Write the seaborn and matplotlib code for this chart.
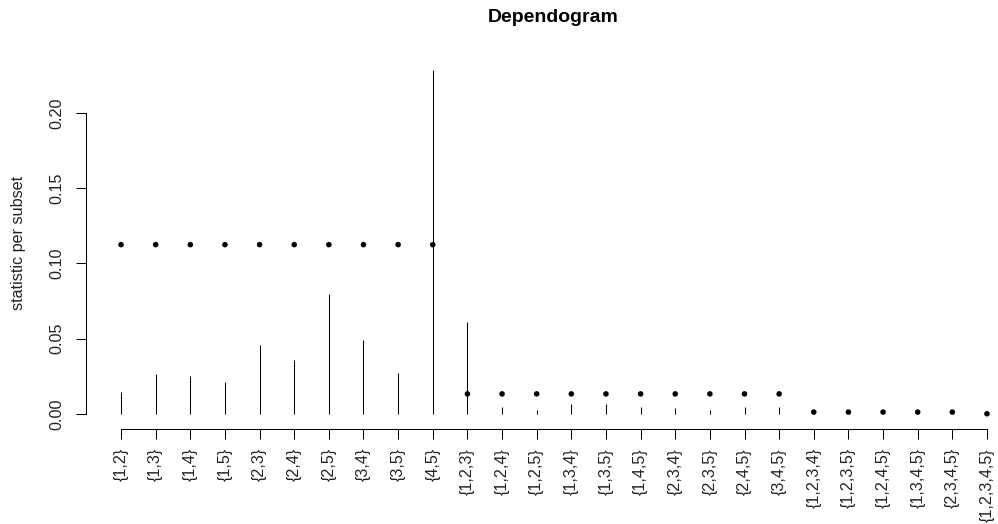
import matplotlib
matplotlib.use("Agg")
import matplotlib.pyplot as plt
import seaborn as sns
import pandas as pd

# Subsets of the five variables, in the order they are tested
subsets = ["{1,2}", "{1,3}", "{1,4}", "{1,5}", "{2,3}", "{2,4}", "{2,5}", "{3,4}", "{3,5}", "{4,5}",
           "{1,2,3}", "{1,2,4}", "{1,2,5}", "{1,3,4}", "{1,3,5}", "{1,4,5}", "{2,3,4}", "{2,3,5}",
           "{2,4,5}", "{3,4,5}",
           "{1,2,3,4}", "{1,2,3,5}", "{1,2,4,5}", "{1,3,4,5}", "{2,3,4,5}",
           "{1,2,3,4,5}"]

# Test statistic for each subset
statistic = [0.0148, 0.0266, 0.0255, 0.0213, 0.0458, 0.0357, 0.0797, 0.0492, 0.0272, 0.2286,
             0.0609, 0.0047, 0.0027, 0.0065, 0.0065, 0.0047, 0.0036, 0.0029, 0.0047, 0.0047,
             0.0, 0.0, 0.0, 0.0, 0.0,
             0.0]

# Critical value for each subset (depends on subset size)
critical = [0.1125] * 10 + [0.0133] * 10 + [0.0012] * 5 + [0.0001]

df = pd.DataFrame({
    "pos": range(1, len(subsets) + 1),
    "subset": subsets,
    "statistic": statistic,
    "critical": critical,
})

sns.set_theme(style="white")
plt.rcParams["font.family"] = ["Liberation Sans", "DejaVu Sans"]

W, H = 998, 524
fig = plt.figure(figsize=(W / 100, H / 100), dpi=100)

# Plot region in pixels (it runs slightly past the right edge of the figure)
left_px, right_px = 86.4, 1021.6
top_px, bottom_px = 57.0, 428.5
ax = fig.add_axes([left_px / W, 1 - bottom_px / H,
                   (right_px - left_px) / W, (bottom_px - top_px) / H])

# Statistic per subset as vertical lines from zero
ax.vlines(df["pos"], 0, df["statistic"], color="black", linewidth=0.75)

# Critical values as dots
sns.scatterplot(data=df, x="pos", y="critical", ax=ax, color="black",
                s=16, edgecolor="none", linewidth=0, zorder=3)

ax.set_xlim(0, 27)
ax.set_ylim(-0.0097, 0.2372)

tick_fs = 11.6
ax.set_xticks(df["pos"])
ax.set_xticklabels(df["subset"], rotation=90, fontsize=tick_fs, va="top")
ax.set_yticks([0.0, 0.05, 0.10, 0.15, 0.20])
ax.set_yticklabels(["0.00", "0.05", "0.10", "0.15", "0.20"], rotation=90,
                   fontsize=tick_fs, va="center")

ax.tick_params(axis="x", direction="out", length=7.0, width=0.72, pad=7.0,
               colors="black", bottom=True)
ax.tick_params(axis="y", direction="out", length=7.0, width=0.72, pad=9.0,
               colors="black", left=True)
for lab in ax.get_xticklabels() + ax.get_yticklabels():
    lab.set_color("#222222")

for side in ["top", "right"]:
    ax.spines[side].set_visible(False)
ax.spines["left"].set_bounds(0.0, 0.20)
ax.spines["bottom"].set_bounds(1, 26)
for side in ["left", "bottom"]:
    ax.spines[side].set_linewidth(0.75)
    ax.spines[side].set_color("black")

ax.set_xlabel("")
ax.set_ylabel("")
fig.text(19 / W, 1 - 243 / H, "statistic per subset", rotation=90,
         ha="center", va="center", fontsize=tick_fs, color="#222222")
fig.text(553 / W, 1 - 18 / H, "Dependogram", ha="center", va="center",
         fontsize=14.0, fontweight="bold", color="black")

fig.savefig("out.png", dpi=100)
